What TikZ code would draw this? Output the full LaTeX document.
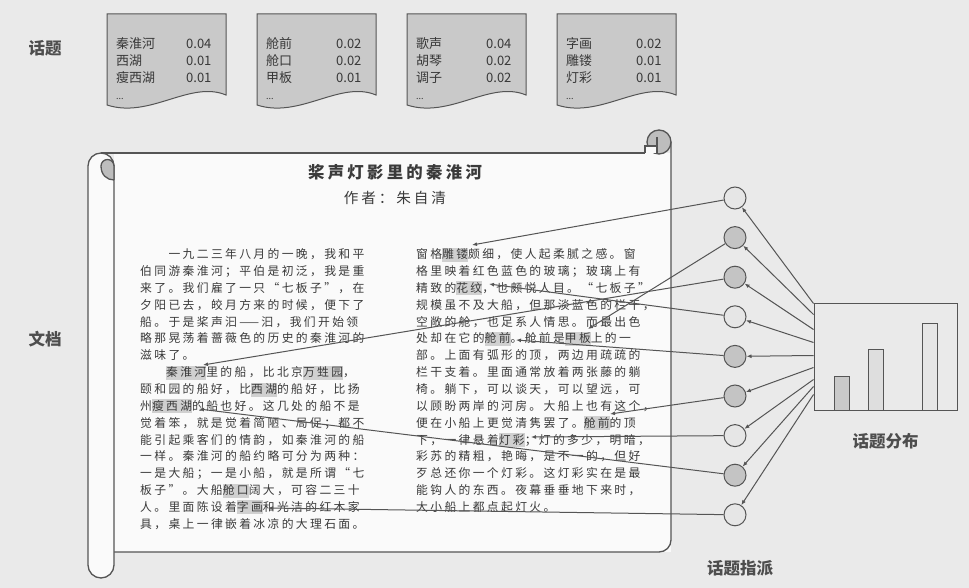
\documentclass[tikz,border=0pt]{standalone}
\usepackage{fontspec}
\setmainfont{Noto Sans CJK SC}
\newfontfamily\essayfont[LetterSpace=20]{Noto Sans CJK SC}
\usepackage{xcolor}
\usepackage{tikz}
\usetikzlibrary{arrows.meta,positioning}
\definecolor{paperbg}{HTML}{EAEAEA}
\definecolor{sheetwhite}{HTML}{FAFAFA}
\definecolor{inkgray}{HTML}{555555}
\definecolor{textgray}{HTML}{3A3A3A}
\definecolor{topicgray}{HTML}{C9C9C9}
\definecolor{curlgray}{HTML}{BDBDBD}
\definecolor{hlgray}{HTML}{D0D0D0}
\definecolor{dotlight}{HTML}{E6E6E6}
\definecolor{dotdark}{HTML}{C4C4C4}

\newcommand{\wordhl}[1]{{\setlength{\fboxsep}{0pt}\colorbox{hlgray}{\rule[-3pt]{0pt}{14pt}#1}}}
\newcommand{\topicdoc}[2]{%
  \draw[docframe] (#1.north west) -- (#1.north east) -- (#1.south east)
    .. controls +(-36,15) and +(43,-14) .. ([yshift=-10pt]#1.south west) -- cycle;
  \node[topicrows] (#1-rows) at ([xshift=9pt,yshift=-23pt]#1.north west) {#2};}

\begin{document}
\begin{tikzpicture}[x=1pt,y=1pt,
  node distance=16.6pt,
  heading/.style={font=\bfseries\fontsize{16.5}{18}\selectfont,text=textgray!90},
  topicframe/.style={minimum width=119pt,minimum height=81pt,inner sep=0,outer sep=0},
  docframe/.style={draw=inkgray,line width=1pt,fill=topicgray},
  topicrows/.style={anchor=north west,inner sep=0,font=\fontsize{13}{16.8}\selectfont,text=black!78},
  scroll/.style={draw=inkgray,line width=1.3pt},
  essay/.style={anchor=north west,inner sep=0,align=left,text=textgray,font=\essayfont\fontsize{11.8}{16.85}\selectfont},
  dot/.style={circle,draw=inkgray,line width=1pt,minimum size=22pt,inner sep=0},
  bar/.style={draw=inkgray,line width=0.8pt,minimum width=15pt,inner sep=0,anchor=south west},
  arrow/.style={-{Latex[length=5pt,width=4pt]},draw=inkgray,line width=1pt}
]
\useasboundingbox (0,0) rectangle (969,-588);
\fill[paperbg] (0,0) rectangle (969,-588);

% topics
\node[heading] (lbl-topic) at (45,-48) {话题};
\node[topicframe] (k1) at (166.5,-54.5) {};
\node[topicframe,right=31pt of k1] (k2) {};
\node[topicframe,right=31pt of k2] (k3) {};
\node[topicframe,right=31pt of k3] (k4) {};
\topicdoc{k1}{\begin{tabular}{@{}p{70pt}@{}r@{}}秦淮河 & 0.04\\ 西湖 & 0.01\\ 瘦西湖 & 0.01\\ {\fontsize{9}{10}\selectfont ...} & \end{tabular}}
\topicdoc{k2}{\begin{tabular}{@{}p{70pt}@{}r@{}}舱前 & 0.02\\ 舱口 & 0.02\\ 甲板 & 0.01\\ {\fontsize{9}{10}\selectfont ...} & \end{tabular}}
\topicdoc{k3}{\begin{tabular}{@{}p{70pt}@{}r@{}}歌声 & 0.04\\ 胡琴 & 0.02\\ 调子 & 0.02\\ {\fontsize{9}{10}\selectfont ...} & \end{tabular}}
\topicdoc{k4}{\begin{tabular}{@{}p{70pt}@{}r@{}}字画 & 0.02\\ 雕镂 & 0.01\\ 灯彩 & 0.01\\ {\fontsize{9}{10}\selectfont ...} & \end{tabular}}

% scroll
\fill[sheetwhite] (114,-153) rectangle (671,-552);
\draw[scroll] (114,-552) -- (659,-552) arc (-90:0:12) -- (671,-142);
\draw[scroll,fill=sheetwhite] (88,-166) arc (180:0:13) -- (114,-565) arc (0:-180:13) -- cycle;
\draw[scroll] (101,-153) -- (645,-153);
\draw[scroll,fill=curlgray] (114,-180) -- (114,-166) arc (0:180:6.5) .. controls (101,-175) and (107,-180) .. (114,-180);
\draw[scroll,fill=curlgray] (659,-142) circle (12);
\draw[scroll,fill=sheetwhite] (645,-153) -- (645,-146) -- (657,-146) -- (657,-153);
\draw[scroll] (657,-137) -- (657,-146);
\node[heading] (lbl-doc) at (45,-339) {文档};

\node[font=\essayfont\bfseries\fontsize{16.4}{20}\selectfont,text=textgray] (title) at (395,-172) {桨声灯影里的秦淮河};
\node[font=\essayfont\fontsize{14.6}{18}\selectfont,text=textgray,below=4pt of title] (author) {作者：朱自清};

\node[essay] (lcol) at (140,-246.5) {\rule{0pt}{12pt}　　一九二三年八月的一晚，我和平\\
伯同游秦淮河；平伯是初泛，我是重\\
来了。我们雇了一只“七板子”，在\\
夕阳已去，皎月方来的时候，便下了\\
船。于是桨声汩——汩，我们开始领\\
略那晃荡着蔷薇色的历史的秦淮河的\\
滋味了。\\
　　\wordhl{秦淮河}里的船，比北京\wordhl{万甡园}，\\
颐和园的船好，比\wordhl{西湖}的船好，比扬\\
州\wordhl{瘦西湖}的船也好。这几处的船不是\\
觉着笨，就是觉着简陋、局促；都不\\
能引起乘客们的情韵，如秦淮河的船\\
一样。秦淮河的船约略可分为两种：\\
一是大船；一是小船，就是所谓“七\\
板子”。大船\wordhl{舱口}阔大，可容二三十\\
人。里面陈设着\wordhl{字画}和光洁的红木家\\
具，桌上一律嵌着冰凉的大理石面。};
\node[essay] (rcol) at (416,-246.5) {\rule{0pt}{12pt}窗格\wordhl{雕镂}颇细，使人起柔腻之感。窗\\
格里映着红色蓝色的玻璃；玻璃上有\\
精致的\wordhl{花纹}，也颇悦人目。“七板子”\\
规模虽不及大船，但那淡蓝色的栏干，\\
空敞的舱，也足系人情思。而最出色\\
处却在它的\wordhl{舱前}。舱前是\wordhl{甲板}上的一\\
部。上面有弧形的顶，两边用疏疏的\\
栏干支着。里面通常放着两张藤的躺\\
椅。躺下，可以谈天，可以望远，可\\
以顾盼两岸的河房。大船上也有这个，\\
便在小船上更觉清隽罢了。\wordhl{舱前}的顶\\
下，一律悬着\wordhl{灯彩}；灯的多少，明暗，\\
彩苏的精粗，艳晦，是不一的，但好\\
歹总还你一个灯彩。这灯彩实在是最\\
能钩人的东西。夜幕垂垂地下来时，\\
大小船上都点起灯火。};

% words that get a topic
\coordinate (diaolou) at (472,-245);
\coordinate (huawen) at (489,-284);
\coordinate (jiaban) at (588,-329);
\coordinate (cangqian) at (516,-340);
\coordinate (cangqian2) at (610,-414);
\coordinate (dengcai) at (531,-437);
\coordinate (qinhuai) at (203,-365);
\coordinate (shouxihu) at (199,-409);
\coordinate (zihua) at (268,-508);

% topic assignment
\node[dot,fill=dotlight] (t1) at (735,-198) {};
\node[dot,fill=dotdark,below=of t1] (t2) {};
\node[dot,fill=dotdark,below=of t2] (t3) {};
\node[dot,fill=dotlight,below=of t3] (t4) {};
\node[dot,fill=dotdark,below=of t4] (t5) {};
\node[dot,fill=dotdark,below=of t5] (t6) {};
\node[dot,fill=dotlight,below=of t6] (t7) {};
\node[dot,fill=dotdark,below=of t7] (t8) {};
\node[dot,fill=dotlight,below=of t8] (t9) {};
\node[heading] (lbl-assign) at (740,-568) {话题指派};

% topic distribution
\node[draw=inkgray,line width=1pt,fill=paperbg,minimum width=143pt,minimum height=107pt,inner sep=0] (dist) at (885.5,-356.5) {};
\node[bar,fill=topicgray,minimum height=34pt] (b1) at ([xshift=20pt]dist.south west) {};
\node[bar,fill=hlgray!70,minimum height=61pt] (b2) at ([xshift=54pt]dist.south west) {};
\node[bar,fill=dotlight,minimum height=87pt] (b3) at ([xshift=108pt]dist.south west) {};
\node[heading,below=19pt of dist] (lbl-dist) {话题分布};

\draw[arrow] ([yshift=-1pt]dist.north west) -- (t1);
\draw[arrow] ([yshift=-12pt]dist.north west) -- (t2);
\draw[arrow] ([yshift=-27pt]dist.north west) -- (t3);
\draw[arrow] ([yshift=-40pt]dist.north west) -- (t4);
\draw[arrow] ([yshift=-53pt]dist.north west) -- (t5);
\draw[arrow] ([yshift=-65pt]dist.north west) -- (t6);
\draw[arrow] ([yshift=-77pt]dist.north west) -- (t7);
\draw[arrow] ([yshift=-84pt]dist.north west) -- (t8);
\draw[arrow] ([yshift=-92pt]dist.north west) -- (t9);

\draw[arrow] (t1) -- (diaolou);
\draw[arrow] (t2) -- (jiaban);
\draw[arrow] (t3) -- (qinhuai);
\draw[arrow] (t4) -- (huawen);
\draw[arrow] (t5) -- (cangqian);
\draw[arrow] (t6) -- (cangqian2);
\draw[arrow] (t7) -- (dengcai);
\draw[arrow] (t8) -- (shouxihu);
\draw[arrow] (t9) -- (zihua);
\end{tikzpicture}
\end{document}
